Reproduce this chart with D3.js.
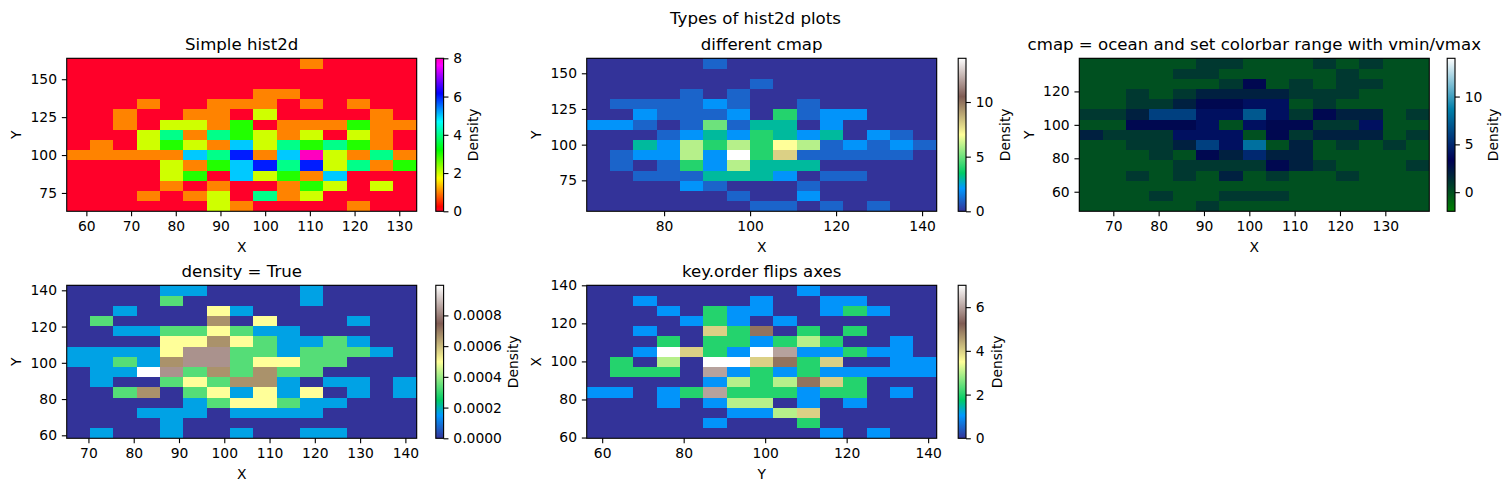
<!DOCTYPE html>
<html>
<head>
<meta charset="utf-8">
<style>
html,body{margin:0;padding:0;background:#fff;}
svg{display:block;}
text{font-family:"DejaVu Sans",sans-serif;fill:#000;}
</style>
<script src="https://cdn.jsdelivr.net/npm/d3@7/dist/d3.min.js"></script>
</head>
<body>
<svg id="chart" width="1511" height="491"></svg>
<script>
// ---------- data: counts per bin, rows listed top to bottom ----------
const simpleCounts = [
 [0,0,0,0,0,0,0,0,0,0,1,0,0,0,0],
 [0,0,0,0,0,0,0,0,0,0,0,0,0,0,0],
 [0,0,0,0,0,0,0,0,0,0,0,0,0,0,0],
 [0,0,0,0,0,0,0,0,1,1,0,0,0,0,0],
 [0,0,0,1,0,0,1,1,1,0,1,0,1,0,0],
 [0,0,1,0,0,1,1,0,2,0,0,0,0,1,0],
 [0,0,1,0,2,2,1,3,0,1,1,1,3,1,1],
 [0,0,0,2,4,1,4,3,2,1,2,0,2,1,0],
 [0,1,0,2,3,2,1,5,2,4,3,4,3,1,0],
 [1,1,1,1,1,5,4,6,1,5,8,2,1,4,1],
 [0,0,0,0,2,1,3,5,6,4,6,2,4,1,3],
 [0,0,0,0,2,3,0,5,2,3,1,5,0,0,0],
 [0,0,0,0,1,0,1,0,0,1,3,2,0,2,0],
 [0,0,0,1,0,1,2,0,4,1,2,0,0,0,0],
 [0,0,0,0,0,0,2,1,0,0,0,0,1,0,0]];
const cmapCounts = [
 [0,0,0,0,0,1,0,0,0,0,0,0,0,0,0],
 [0,0,0,0,0,0,0,0,0,0,0,0,0,0,0],
 [0,0,0,0,0,0,0,1,0,0,0,0,0,0,0],
 [0,0,0,0,1,0,1,0,0,0,0,0,0,0,0],
 [0,1,1,1,1,2,1,0,0,1,0,0,0,0,0],
 [0,0,2,1,1,1,2,0,4,1,2,2,0,0,0],
 [2,2,1,0,1,5,1,3,3,0,2,0,0,0,0],
 [0,0,0,1,2,3,2,4,3,2,3,0,2,1,0],
 [0,0,3,2,6,4,6,4,7,6,1,2,1,2,1],
 [0,1,2,2,6,2,14,4,8,1,1,1,1,1,0],
 [0,1,0,1,4,2,6,3,3,3,0,0,0,0,0],
 [0,0,1,1,1,3,3,3,2,0,1,1,0,0,0],
 [0,0,0,0,2,1,0,0,0,1,0,0,0,0,0],
 [0,0,0,0,0,0,1,0,0,2,0,0,0,0,0],
 [0,0,0,0,0,0,0,1,1,0,1,0,1,0,0]];
const oceanCounts = [
 [0,0,0,0,0,1,1,0,0,0,1,0,1,0,0],
 [0,0,0,0,1,1,0,0,0,0,0,1,0,0,0],
 [0,0,0,0,0,0,1,3,0,1,0,1,1,0,0],
 [0,0,1,0,1,2,2,2,2,1,1,1,0,0,0],
 [0,0,1,1,2,3,3,4,4,0,1,0,0,0,0],
 [1,1,2,6,6,4,4,7,4,1,3,2,2,0,1],
 [0,0,3,3,3,4,0,4,3,3,1,1,4,0,0],
 [2,1,1,1,4,4,4,0,3,1,2,2,2,0,1],
 [0,0,1,1,2,6,4,8,0,2,0,1,0,1,0],
 [0,0,0,1,0,3,2,5,2,2,0,0,0,0,0],
 [0,0,0,0,1,1,1,1,3,2,1,0,0,0,1],
 [0,0,1,0,1,0,2,0,1,0,0,1,0,0,0],
 [0,0,0,0,0,0,0,0,0,0,0,0,0,0,0],
 [0,0,0,1,0,0,1,1,1,0,0,0,0,0,0],
 [0,0,0,0,0,1,0,0,0,0,0,0,0,0,0]];
const densityCounts = [
 [0,0,0,0,1,1,0,0,0,0,1,0,0,0,0],
 [0,0,0,0,2,0,0,0,0,0,1,0,0,0,0],
 [0,0,1,0,0,0,3,1,0,0,0,0,0,0,0],
 [0,2,0,0,0,0,4,0,3,0,0,0,1,0,0],
 [0,0,1,1,2,2,3,2,1,1,0,0,0,0,0],
 [0,0,0,0,3,3,4,3,2,1,1,2,1,0,0],
 [1,1,1,1,3,5,5,2,2,1,2,2,2,1,0],
 [1,1,2,1,4,5,5,2,3,3,2,2,0,0,0],
 [0,1,1,6,5,2,4,2,4,2,2,0,0,0,0],
 [0,1,0,0,2,3,2,4,4,1,0,1,1,0,1],
 [0,0,2,4,0,2,3,1,3,1,3,0,1,0,1],
 [0,0,0,0,0,1,2,3,3,2,1,1,0,0,0],
 [0,0,0,1,1,1,0,1,1,1,1,0,0,0,0],
 [0,0,0,0,1,0,0,0,0,0,0,0,0,0,0],
 [0,1,0,0,1,0,0,1,0,0,1,1,0,0,0]];
const densityPerCount = 0.000166;
const flippedCounts = [
 [0,0,0,0,0,0,0,0,0,1,0,0,0,0,0],
 [0,0,1,0,0,0,0,1,0,0,1,1,0,0,0],
 [0,0,0,1,0,2,1,1,0,0,1,2,1,0,0],
 [0,0,0,0,1,2,1,0,1,0,0,0,0,0,0],
 [0,0,1,0,0,4,2,5,0,2,0,2,0,0,0],
 [0,0,0,2,0,2,2,1,2,3,2,0,0,1,0],
 [0,0,1,7,4,2,1,7,6,1,1,2,1,1,0],
 [0,2,0,3,0,7,7,4,5,2,4,0,0,1,1],
 [0,2,2,2,0,6,1,2,1,2,1,1,1,1,1],
 [0,0,0,0,0,1,3,2,3,5,4,2,0,0,0],
 [1,1,0,1,2,6,2,2,2,1,2,2,0,1,0],
 [0,0,0,1,0,1,3,3,0,1,0,1,0,0,0],
 [0,0,0,0,0,0,1,1,3,4,0,0,0,0,0],
 [0,0,0,0,0,1,0,0,0,2,0,0,0,0,0],
 [0,0,0,0,0,0,0,0,0,0,1,0,1,0,0]];

// axis ranges
const simpleX = [55.6,133.9], simpleY = [62.9,163.8];
const cmapX = [62.0,143.4], cmapY = [53.3,160.5];
const oceanX = [62.5,139.7], oceanY = [48.3,139.8];
const densityX = [65.2,142.5], densityY = [58.35,142.76];
const flippedX = [56.2,142.1], flippedY = [59.6,140.0];

// tick labels
const simpleXTicks = [60,70,80,90,100,110,120,130], simpleYTicks = [75,100,125,150];
const cmapXTicks = [80,100,120,140], cmapYTicks = [75,100,125,150];
const oceanXTicks = [70,80,90,100,110,120,130], oceanYTicks = [60,80,100,120];
const densityXTicks = [70,80,90,100,110,120,130,140], densityYTicks = [60,80,100,120,140];
const flippedXTicks = [60,80,100,120,140], flippedYTicks = [60,80,100,120,140];
const simpleBarTicks = [0,2,4,6,8], cmapBarTicks = [0,5,10];
const oceanBarTicks = [0,5,10], densityBarTicks = [0,0.0002,0.0004,0.0006,0.0008], flippedBarTicks = [0,2,4,6];

// ---------- colour maps (matplotlib segment tables) ----------
function cmapFrom(stops){
  return t=>{
    t=Math.max(0,Math.min(1,t));
    let i=1; while(i<stops.length-1 && t>stops[i][0]) i++;
    const a=stops[i-1],b=stops[i],f=(t-a[0])/(b[0]-a[0]);
    return d3.rgb(...[1,2,3].map(k=>Math.round(255*(a[k]+(b[k]-a[k])*f)))).formatHex();
  };
}
const gistRainbow = cmapFrom([[0,1,0,.16],[.03,1,0,0],[.215,1,1,0],[.4,0,1,0],[.586,0,1,1],[.77,0,0,1],[.954,1,0,1],[1,1,0,.75]]);
const terrain = cmapFrom([[0,.2,.2,.6],[.15,0,.6,1],[.25,0,.8,.4],[.5,1,1,.6],[.75,.5,.36,.33],[1,1,1,1]]);
const clip01 = v=>Math.max(0,Math.min(1,v));
const ocean = t=>d3.rgb(255*clip01(3*t-2),255*Math.abs(3*t-1)/2,255*t).formatHex();

const sci = d=>d3.format(".4f")(d);
const plain = d=>String(d);

const panels = [
 {title:"Simple hist2d",counts:simpleCounts,unit:1,xr:simpleX,yr:simpleY,xt:simpleXTicks,yt:simpleYTicks,bt:simpleBarTicks,
  vr:[0,8],cm:gistRainbow,fmt:plain,xl:"X",yl:"Y",box:[66.7,416.7,58.3,211.3],bar:[435.8,443.6],ylx:16,cbx:473},
 {title:"different cmap",counts:cmapCounts,unit:1,xr:cmapX,yr:cmapY,xt:cmapXTicks,yt:cmapYTicks,bt:cmapBarTicks,
  vr:[0,14],cm:terrain,fmt:plain,xl:"X",yl:"Y",box:[586.7,936.7,58.3,211.3],bar:[958.2,966],ylx:536,cbx:1005},
 {title:"cmap = ocean and set colorbar range with vmin/vmax",counts:oceanCounts,unit:1,xr:oceanX,yr:oceanY,xt:oceanXTicks,yt:oceanYTicks,bt:oceanBarTicks,
  vr:[-2,14],cm:ocean,fmt:plain,xl:"X",yl:"Y",box:[1079.3,1429.3,58.3,211.3],bar:[1447.2,1455],ylx:1029,cbx:1493},
 {title:"density = True",counts:densityCounts,unit:densityPerCount,xr:densityX,yr:densityY,xt:densityXTicks,yt:densityYTicks,bt:densityBarTicks,
  vr:[0,6*densityPerCount],cm:terrain,fmt:sci,xl:"X",yl:"Y",box:[66.7,416.7,285.3,438.3],bar:[435.8,443.6],ylx:16,cbx:513},
 {title:"key.order flips axes",counts:flippedCounts,unit:1,xr:flippedX,yr:flippedY,xt:flippedXTicks,yt:flippedYTicks,bt:flippedBarTicks,
  vr:[0,7],cm:terrain,fmt:plain,xl:"Y",yl:"X",box:[586.7,936.7,285.3,438.3],bar:[958.2,966],ylx:536,cbx:997}
];

// ---------- drawing ----------
const FS=13.89, TICK=4.86, PAD=4.86, LW=1.11;
const svg=d3.select("#chart");
const defs=svg.append("defs");

svg.append("text").attr("x",755.5).attr("y",23.5).attr("text-anchor","middle")
   .attr("font-size",16.67).text("Types of hist2d plots");

function styleAxis(g){
  g.selectAll("path.domain").remove();
  g.selectAll(".tick line").attr("stroke","#000").attr("stroke-width",LW);
  g.selectAll(".tick text").attr("font-size",FS).attr("font-family",'"DejaVu Sans",sans-serif').attr("fill","#000");
}

panels.forEach((p,pi)=>{
  const [l,r,t,b]=p.box;
  const x=d3.scaleLinear().domain(p.xr).range([l,r]);
  const y=d3.scaleLinear().domain(p.yr).range([b,t]);
  const color=d3.scaleLinear().domain(p.vr).range([0,1]);
  const nRows=p.counts.length, nCols=p.counts[0].length;
  const xEdge=i=>p.xr[0]+i*(p.xr[1]-p.xr[0])/nCols;
  const yEdge=i=>p.yr[1]-i*(p.yr[1]-p.yr[0])/nRows;
  const g=svg.append("g");

  const cells=p.counts.flatMap((row,ri)=>row.map((v,ci)=>({ri,ci,v:v*p.unit})));
  g.selectAll("rect.cell").data(cells).join("rect").attr("class","cell")
    .attr("shape-rendering","crispEdges")
    .attr("x",d=>x(xEdge(d.ci))).attr("width",d=>x(xEdge(d.ci+1))-x(xEdge(d.ci)))
    .attr("y",d=>y(yEdge(d.ri))).attr("height",d=>y(yEdge(d.ri+1))-y(yEdge(d.ri)))
    .attr("fill",d=>p.cm(color(d.v)));

  g.append("rect").attr("x",l).attr("y",t).attr("width",r-l).attr("height",b-t)
    .attr("fill","none").attr("stroke","#000").attr("stroke-width",LW);

  g.append("g").attr("transform",`translate(0,${b})`)
    .call(d3.axisBottom(x).tickValues(p.xt).tickSize(TICK).tickPadding(PAD).tickFormat(plain)).call(styleAxis);
  g.append("g").attr("transform",`translate(${l},0)`)
    .call(d3.axisLeft(y).tickValues(p.yt).tickSize(TICK).tickPadding(PAD).tickFormat(plain)).call(styleAxis);

  g.append("text").attr("x",(l+r)/2).attr("y",t-8.5).attr("text-anchor","middle")
    .attr("font-size",16.6).text(p.title);
  g.append("text").attr("x",(l+r)/2).attr("y",b+41).attr("text-anchor","middle")
    .attr("font-size",FS).text(p.xl);
  g.append("text").attr("transform",`translate(${p.ylx+5},${(t+b)/2}) rotate(-90)`).attr("text-anchor","middle")
    .attr("font-size",FS).text(p.yl);

  // colour bar
  const [bl,br]=p.bar;
  const gid="bar"+pi;
  defs.append("linearGradient").attr("id",gid).attr("x1",0).attr("y1",1).attr("x2",0).attr("y2",0)
    .selectAll("stop").data(d3.range(0,129)).join("stop")
    .attr("offset",d=>d/128).attr("stop-color",d=>p.cm(d/128));
  g.append("rect").attr("x",bl).attr("y",t).attr("width",br-bl).attr("height",b-t).attr("fill",`url(#${gid})`);
  g.append("rect").attr("x",bl).attr("y",t).attr("width",br-bl).attr("height",b-t)
    .attr("fill","none").attr("stroke","#000").attr("stroke-width",LW);
  const by=d3.scaleLinear().domain(p.vr).range([b,t]);
  g.append("g").attr("transform",`translate(${br},0)`)
    .call(d3.axisRight(by).tickValues(p.bt).tickSize(TICK).tickPadding(PAD).tickFormat(p.fmt)).call(styleAxis);
  g.append("text").attr("transform",`translate(${p.cbx+5},${(t+b)/2}) rotate(-90)`).attr("text-anchor","middle")
    .attr("font-size",FS).text("Density");
});
</script>
</body>
</html>
